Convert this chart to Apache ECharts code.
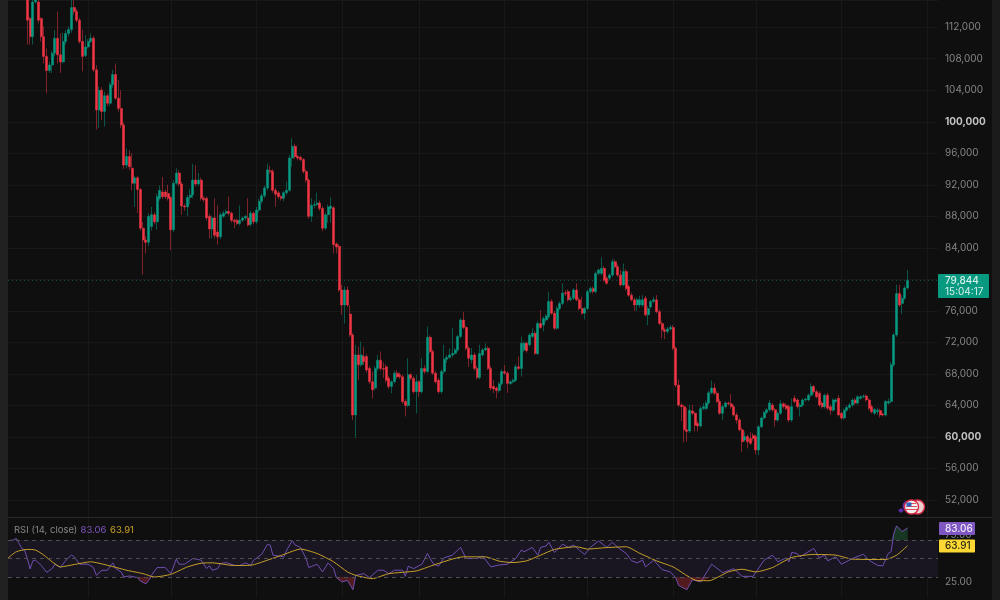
<!DOCTYPE html>
<html>
<head>
<meta charset="utf-8">
<style>html,body{margin:0;padding:0;background:#0f0f0f}#chart{width:1000px;height:600px}</style>
<script src="https://cdn.jsdelivr.net/npm/echarts@6/dist/echarts.min.js"></script>
</head>
<body>
<div id="chart"></div>
<script>
// prices in thousands of dollars, one candle a day, first candle sits at slot 7
const firstCandle = 7;
const slotCount = 338;
const monthStarts = [29, 59, 90, 121, 149, 180, 210, 241, 271, 302, 333];
const priceTicksBold = [60, 100];
const lastPrice = 79.844;

const opens = [
  121,113.1,110.8,115.2,115.2,113.1,110.8,108.3,106.5,107.2,
  108.7,110.6,108.5,107.6,110.2,111.2,111.7,114.5,114,112.9,
  110.2,108.4,109.5,110.2,110.6,106.6,101.5,104,101.3,103.3,
  102.35,104.7,106,103,101.7,99.6,94.5,95.6,94.1,92.2,
  92.9,91.4,86.5,85,84.7,86.7,88.2,87.3,90.3,91.1,
  91.1,90.9,90.4,86.3,92.2,93.5,92.1,89.3,89.2,90.4,
  90.7,92.6,92.1,92.6,90.3,90.3,88,86.4,87.8,86,
  85.4,88,88.4,88.6,88.4,87.5,87.5,87.1,87.5,87.8,
  87.8,87,88.4,87.3,88.8,89.9,90.6,91.6,93.8,93.7,
  91.3,91,90.5,90.3,91,91.3,95.4,96.9,95.6,95.5,
  95.2,93.7,92.6,88,89.4,89.5,89.7,89,86.5,88.2,
  89,89.1,84.5,84.2,78.65,76.75,78.65,75.6,72.95,62.8,
  70.4,69.15,70.2,70.2,68.7,67,66.2,68.7,69.75,68.7,
  68.9,67.45,66.4,67,68.1,67.9,67.65,64.5,64,67.9,
  67.45,65.75,67,65.75,68.7,68.3,72.65,70.85,68.1,67.2,
  65.75,68.3,69.85,70.1,70.4,70.6,71.05,72.75,74.85,73.9,
  71.25,69.8,70.4,68.7,67.55,70.4,71.05,71.25,68.7,66.4,
  66.2,65.9,66.75,68.3,68.1,66.8,67,67.2,68.9,68.7,
  71.05,71.9,71.7,72.75,73.15,70.6,74.4,74.2,74.85,75.25,
  77.2,75.7,73.8,76.3,76.95,78.3,78.45,77.45,77.6,78.65,
  77.4,76.3,75.7,76.3,78.45,78.85,78.45,80.75,80.75,81.4,
  80.15,80.15,80.55,82.25,81.6,80.55,79.3,81,79.1,78,
  77.4,76.75,76.75,76.75,77.6,75.5,76.5,77.2,77.4,75.9,
  74.4,73.6,73.4,73.7,73.9,71.25,66.6,64.05,63.85,60.9,
  60.75,63.3,63,61.7,61.4,63.6,63.6,64.3,65.6,66.2,
  65.55,64.5,63,63.85,64.3,64.2,63.85,62.8,62.15,60.9,
  59.6,60.05,59.8,60.2,60.05,58.35,61.3,62.4,63.1,63.45,
  64.05,63.45,62.15,63,64.2,64,63.85,62.15,64.9,64.7,
  63.85,64.05,64.7,64.7,65.3,66.4,65.75,65.55,64.3,63.85,
  65.3,63.85,63.4,64.5,64.9,63,62.4,63.4,63.75,64.05,
  64.7,64.3,64.9,65.1,65.2,64.7,63.85,63,63.2,63.35,
  62.9,62.8,64.3,64.5,69.15,72.95,78.2,76.95,77.6,78.9
];
const closes = [
  112.9,110.8,115.2,116,112.9,110.8,108.3,106.5,107.2,108.7,
  110.6,108.5,107.6,110.2,111.2,111.7,114.5,114,112.9,110.2,
  108.3,109.5,110.2,110.6,106.6,101.5,104,101.3,103.3,102.35,
  104.7,106,103,101.7,99.6,94.5,95.6,94.3,92.2,92.9,
  91.4,86.5,85,84.7,88,88.2,87.3,90.5,91.3,90.5,
  90.5,90.3,86.3,92.2,93.5,92.1,89.3,89.2,90.4,90.7,
  92.6,92.1,92.6,90.3,90.1,87.8,86.4,87.8,85.6,85.4,
  88.2,88.4,88.6,88.4,87.5,87.3,87.1,87.5,87.8,88,
  86.9,88.4,87.3,88.8,89.9,90.6,91.6,93.9,93.7,91.3,
  90.8,90.5,90.3,91,91.3,95.4,96.9,95.6,95.4,95.2,
  93.7,92.6,88,89.4,89.5,89.7,89,86.5,88.2,89.2,
  89.3,84.4,84.1,78.65,76.75,78.65,76.75,72.95,62.8,70.4,
  69.15,70.4,69.55,68.5,67,66,68.7,69.75,68.7,68.6,
  67.2,66.4,67,68.1,67.65,67.65,64.5,64,67.9,67.45,
  65.75,67,65.75,68.7,68.3,72.65,70.85,68.1,67,65.75,
  68.3,69.85,70.1,70.4,70.6,71.05,72.75,74.85,73.9,71.25,
  70,70.4,68.7,67.55,70.6,71.05,71.25,68.7,66.2,66.1,
  65.9,66.75,68.3,68.1,66.8,67,67.2,68.9,68.7,71.9,
  71.9,70.95,72.95,73.15,70.6,74.4,73.9,75.05,75.35,77.2,
  75.7,73.8,76.3,76.95,78.25,78.2,77.4,77.6,78.65,77.4,
  76.3,75.7,76.3,78.45,78.85,78.45,80.75,81.2,81.4,79.9,
  79.5,80.55,82.25,81.6,80.55,79.3,81,78.85,78,77.4,
  76.75,77.4,77.4,77.4,75.5,76.3,77.2,77.4,75.9,74.4,
  73.6,73.4,73.7,73.9,71.25,66.6,64.05,63.85,60.9,60.7,
  63.4,63,61.5,61.4,63.6,63.85,64.3,65.6,66.2,65.55,
  64.5,63,63.85,64.3,64.2,63.85,62.8,62.15,60.9,59.4,
  60.05,59.4,59.2,59.8,58.35,61.3,62.4,63.1,63.45,64.3,
  63.45,62.15,63,64.2,63.85,63.6,62.15,63.85,64.5,63.85,
  64.05,64.7,64.8,65.3,66.4,65.75,65.1,64.05,63.85,65.3,
  63.65,63.4,64.7,64.7,62.8,62.4,63.4,63.75,64.05,64.7,
  64.3,65.1,65.1,65.2,64.7,63.65,63.2,63.5,63.4,62.8,
  62.8,64.5,64.5,69.15,72.95,78.2,76.75,77.6,78.9,79.844
];
const lows = [
  109.8,109.8,109.8,115,112.5,110.2,107.4,103.6,106.2,106.2,
  108.3,107.4,106.2,107.4,109.8,110.8,111.3,113.6,112.6,109.9,
  106.4,108.2,109.3,110,106.3,99,99.2,100.2,99.4,102,
  102,104.3,102.8,101.3,99.2,94,94.1,93.9,91.3,89.2,
  88.4,86.2,80.6,83.3,84.2,86.2,87,86.3,90,90.2,
  90.2,90,83.7,86,92,91.8,88.2,88.7,88,89.5,
  90.3,91.8,91.9,90,89.8,87.5,85.2,85.2,85.2,84.4,
  85.1,87.8,88.2,88.1,87.2,86.5,86.9,86.8,87.3,87.5,
  86.7,86.7,87,87,88.5,89.6,90.3,91.3,93.4,91,
  89.2,90.2,90,89.9,90.7,91.1,94.3,95.3,95.1,95,
  93.4,92.3,87.7,87.3,89,89.3,88.7,86.1,86.3,87.2,
  87.2,83.3,83.3,78.4,75.5,74.4,76.5,72.7,62.15,59.9,
  67.2,68.9,69.15,68.2,66.7,64.9,65.9,68.4,68.4,67.5,
  66.9,66.1,65.55,66.8,67.4,67.4,64.2,62.6,63.8,67.2,
  65.5,63,65.1,65.5,68,68.1,70.6,67.9,66.8,65.5,
  65.5,68,69.4,69.9,70.1,70.4,70.8,72.5,73.7,71,
  68.9,69.3,68.4,67.3,67.3,70.2,70.9,68.5,65.9,65.55,
  64.9,65.6,66.5,67.9,65.6,66.6,66.8,67,68.5,67.65,
  70.8,70.7,71.5,72.5,70.4,70.4,73.7,73.4,74.6,75,
  75.5,73.6,73.6,76.1,76.7,77.9,77.2,77.2,77.4,77.2,
  76.1,75.5,74.9,76.1,78.2,78.2,78.2,80.5,80.5,79.7,
  79.3,79.9,80.3,81.4,80.3,79.1,79.1,78.6,77.8,77.2,
  76,76,76.4,76.5,75.3,74.2,76.3,77,75.7,74.2,
  72.5,72.4,73.1,73.5,71,66.3,63.8,62,59.3,59.4,
  60.5,62.8,60.7,60.7,61.2,63.4,63.4,64.1,65.4,65.3,
  64.3,62.8,62.15,63.6,64,63.6,62.6,61.7,60.7,58.1,
  59.4,58.55,59,59.5,57.8,57.7,61.1,62.2,62.9,63.2,
  63.2,61.3,61.9,62.8,63.6,63.4,61.9,61.9,64.3,63.6,
  62.6,63.8,64.5,64.5,65.1,65.5,64.9,63.8,63.6,63.6,
  63.4,62.8,63.2,64.3,62.6,62.2,62.2,63.2,63.5,63.8,
  64.1,64.1,64.7,64.9,64.5,63.4,63,62.8,62.8,62.45,
  62.6,62.6,64.1,64.3,68.9,72.7,76.5,75.6,77.4,78.7
];
const highs = [
  122.5,113.3,116,117,116,113.3,112.1,109.3,107.6,109,
  111.65,114,111.2,111.3,111.6,112.1,116,116,114.3,113.2,
  111.7,111,110.5,111.2,110.9,107.2,104.5,104.4,103.8,103.6,
  105,106.6,107.4,105.3,104,99.9,96.6,96.4,96,93.1,
  93.1,91.6,87.3,85.5,88.4,89.2,88.5,90.9,91.9,93,
  91.4,92,90.6,92.6,94.1,93.8,92.4,89.6,90.7,91.5,
  94.65,94.5,93.5,92.9,90.6,90.5,88.3,88.1,90.3,89.4,
  88.5,88.7,88.9,90.5,88.6,87.7,87.7,89.4,88,88.2,
  90.3,88.7,88.6,89.2,90.2,90.9,91.9,94.7,94.4,94,
  91.6,91.2,90.7,91.2,92.4,95.8,97.9,97.2,95.8,95.7,
  95.4,94,92.8,90.3,90,91,90,89.3,88.5,89.5,
  90.4,89.3,84.7,84.5,79.3,79.1,79.1,76.75,73.2,71.7,
  71.45,72.1,71.45,70.5,69,68.3,69,70.4,70.85,69.5,
  69.2,67.7,67.2,68.4,68.5,68.2,67.9,64.8,70,68.1,
  67.7,67.9,67.2,70,69.1,74,72.9,71.1,68.4,67.5,
  68.6,71.7,70.4,71.25,73.8,71.3,73,75.1,75.9,74.1,
  71.5,71.3,70.7,69,71.7,71.3,71.9,71.5,69,67.2,
  66.4,67,68.6,69.15,68.3,67.2,67.4,69.2,70.2,72.75,
  72.1,72.1,73.2,73.8,73.4,74.7,76.1,75.3,75.6,78.45,
  77.5,76,76.6,77.2,79.5,78.6,78.7,77.9,78.9,79.5,
  77.7,77.8,76.5,78.7,79.1,79.1,81,81.4,82.8,81.7,
  80.4,80.8,82.6,82.5,81.9,81.2,82,81.3,79.3,78.3,
  77.7,77.7,77.9,78,77.9,76.6,77.4,77.8,78,76.2,
  74.7,73.9,74,74.2,74.2,71.5,67.3,64.3,64.1,63.7,
  64.1,64.1,63.2,62,63.9,64.3,64.6,65.9,67.15,66.8,
  65.8,64.8,64.1,64.5,64.5,65.45,64.1,63.1,62.4,61.2,
  60.7,60.3,60.6,60.5,60.3,61.5,62.6,63.3,63.7,64.7,
  64.3,63.7,63.2,64.7,64.4,64.3,64.1,64.9,65.3,64.9,
  64.3,64.9,65,65.5,66.8,66.6,66,65.8,64.5,65.5,
  65.6,64.1,64.9,64.9,65.3,63.2,63.6,64,64.3,64.9,
  64.9,65.3,65.3,65.4,65.4,64.9,64.1,63.7,63.7,63.6,
  63.1,64.7,64.9,69.5,73.2,79.3,79.3,78,79.2,81.2
];

// RSI turning points: slot and value
const rsiSlots = [
  0,2,3,4,5,6,7,8,9,10,12,14,16,17,19,21,23,24,26,29,31,32,34,36,38,39,41,42,44,47,48,50,51,52,54,57,59,61,62,64,
  67,70,72,73,74,76,77,79,82,84,86,88,89,92,94,95,96,100,101,103,104,106,108,109,112,114,116,118,119,121,123,125,126,129,131,134,136,138,140,143,
  144,145,147,150,152,154,156,158,161,164,166,170,172,175,178,181,184,186,187,190,192,193,195,196,198,201,203,205,207,209,211,214,217,219,221,224,226,228,230,231,
  234,237,240,242,243,246,248,251,255,259,263,266,270,274,277,279,282,283,284,286,287,292,294,296,297,300,302,306,310,312,315,317,319,320,321,322,324,326
];
const rsiValues = [
  69.3,70,71.8,66.4,60.9,59.1,50,38.7,47.5,48.2,42.7,35.1,39.1,43.8,40.2,48.2,53.7,51.8,43.8,43.8,40.2,31.8,37.3,37.3,45.3,39.1,35.5,30,31.1,29.3,25.6,22.7,26.4,31.8,40.2,40.2,33.6,49.3,43.8,43.8,
  50,48.2,39.1,42.4,37.3,39.1,44.6,45.6,42.7,42.4,45.3,42.7,48.2,54.7,65.3,64.6,53.6,51.8,59.1,69.3,64.6,62,50,40.2,43.8,35.5,45.3,39.1,29.3,24.6,26.4,16.2,31.8,33.6,29.3,37.3,37.3,33.6,37.3,37.3,
  30.7,41.6,39.1,43.8,55.5,44.6,41.6,50.7,53.6,62,50,50,52.6,40.9,43,43.8,50,59.1,57.3,62,53.6,62,63.5,67.5,56.5,65.6,62,64.5,59.1,54.4,62,68.9,62,67.5,62,55.5,47.5,45.3,48.2,40.9,
  48.2,38,35.5,29.3,20.9,16.2,27.1,24.6,43.8,34.7,39.1,30.7,30.7,48.2,53.6,46.4,50.7,46.4,56.5,55.4,51.8,60.9,50.7,53.6,47.5,51.8,43.8,50,54.7,48.2,42.7,42,55.5,57.3,77.3,85.3,79.1,83.06
];
const maSlots = [
  0,3,7,10,13,16,19,24,30,36,43,49,53,59,65,70,74,82,88,94,100,106,112,118,123,126,132,138,148,154,165,173,
  178,183,188,193,198,206,210,216,224,229,235,241,250,254,261,266,271,277,284,292,300,306,318,322,326
];
const maValues = [
  50.4,57.3,59.8,59.1,53.6,46.4,40.9,43.5,46.4,42.7,37.3,33.6,30,32.9,40.9,44.9,45.3,42.4,42.7,48.2,54.4,60.2,55.4,46.4,35.5,31.8,28.2,33.6,36.6,42.7,51.8,51.8,
  47.1,45.6,47.5,53.6,59.8,62.7,60.2,61.6,62.7,55.5,47.5,40.9,26,26,35.5,38.4,35.5,40.2,51.1,54.4,53.6,49.3,48.9,53.6,63.91
];
const rsiBands = [30, 50, 70];
const rsiAxisLabels = [25, 75];

const categories = Array.from({ length: slotCount }, (_, i) => i);
const candleData = opens.map((o, k) => [firstCandle + k, o, closes[k], lows[k], highs[k]]);
const rsiData = rsiSlots.map((s, k) => [s, rsiValues[k]]);
const maData = maSlots.map((s, k) => [s, maValues[k]]);

const UP = '#089981', DOWN = '#f23645';
const FONT = 'Inter, "Noto Sans", sans-serif';

const chart = echarts.init(document.getElementById('chart'), null, { renderer: 'canvas' });

function tag(x, y, w, h, fill) {
  return { type: 'rect', z: 50, shape: { x, y, width: w, height: h, r: 1 }, style: { fill } };
}
function label(x, y, text, fill, size, weight) {
  return {
    type: 'text', z: 51, x, y,
    style: { text, fill, font: (weight || 400) + ' ' + (size || 10) + 'px ' + FONT, textVerticalAlign: 'middle' }
  };
}

const option = {
  backgroundColor: '#0f0f0f',
  animation: false,
  grid: [
    { left: 8, top: 0, width: 930, height: 500 },
    { left: 8, top: 517, width: 930, height: 80 },
    { left: 8, top: 0, width: 930, height: 597 }
  ],
  xAxis: [
    { type: 'category', gridIndex: 0, data: categories, boundaryGap: false, show: false },
    { type: 'category', gridIndex: 1, data: categories, boundaryGap: false, show: false },
    {
      type: 'category', gridIndex: 2, data: categories, boundaryGap: false,
      axisLine: { show: false }, axisTick: { show: false }, axisLabel: { show: false },
      splitLine: {
        show: true,
        interval: (i) => monthStarts.includes(i),
        lineStyle: { color: '#191919', width: 1 }
      }
    }
  ],
  yAxis: [
    {
      type: 'value', gridIndex: 0, position: 'right', min: 52, max: 115.455, interval: 4,
      axisLine: { show: false }, axisTick: { show: false },
      splitLine: { show: true, lineStyle: { color: '#181818', width: 1 } },
      axisLabel: {
        margin: 7, color: '#858585', fontFamily: FONT, fontSize: 10, align: 'left',
        formatter: (v) => {
          if (v > 112) return '';
          const t = (v * 1000).toLocaleString('en-US');
          return priceTicksBold.includes(v) ? '{b|' + t + '}' : t;
        },
        rich: { b: { color: '#c2c2c2', fontWeight: 700, fontFamily: FONT, fontSize: 10 } }
      }
    },
    {
      type: 'value', gridIndex: 1, position: 'right', min: 8.38, max: 94.86,
      axisLine: { show: false }, axisTick: { show: false }, splitLine: { show: false },
      axisLabel: {
        margin: 7, color: '#858585', fontFamily: FONT, fontSize: 10, align: 'left',
        customValues: rsiAxisLabels,
        formatter: (v) => v.toFixed(2)
      }
    },
    { type: 'value', gridIndex: 2, min: 0, max: 1, show: false }
  ],
  series: [
    {
      type: 'candlestick', xAxisIndex: 0, yAxisIndex: 0, data: candleData,
      encode: { x: 0, y: [1, 2, 3, 4] },
      barWidth: 2.5, z: 5,
      itemStyle: {
        color: UP, color0: DOWN,
        borderColor: 'rgba(8,153,129,0.5)', borderColor0: 'rgba(242,54,69,0.5)',
        borderWidth: 1
      },
      markLine: {
        silent: true, symbol: 'none', animation: false,
        label: { show: false },
        lineStyle: { color: 'rgba(8,153,129,0.5)', type: [1, 3], width: 1 },
        data: [{ yAxis: lastPrice }]
      }
    },
    {
      // band and dashed levels behind the RSI line
      type: 'line', xAxisIndex: 1, yAxisIndex: 1, data: [], z: 1,
      markArea: {
        silent: true,
        itemStyle: { color: '#191521' },
        data: [[{ yAxis: rsiBands[0] }, { yAxis: rsiBands[2] }]]
      },
      markLine: {
        silent: true, symbol: 'none', animation: false,
        label: { show: false },
        lineStyle: { color: '#505050', type: [4, 4], width: 1 },
        data: rsiBands.map((v) => ({ yAxis: v }))
      }
    },
    {
      type: 'line', xAxisIndex: 1, yAxisIndex: 1, z: 2, symbol: 'none',
      data: rsiData.map(([s, v]) => [s, Math.min(v, rsiBands[0])]),
      lineStyle: { width: 0 },
      areaStyle: { origin: rsiBands[0], color: 'rgba(242,54,69,0.42)' }
    },
    {
      type: 'line', xAxisIndex: 1, yAxisIndex: 1, z: 2, symbol: 'none',
      data: rsiData.map(([s, v]) => [s, Math.max(v, rsiBands[2])]),
      lineStyle: { width: 0 },
      areaStyle: { origin: rsiBands[2], color: 'rgba(46,160,90,0.38)' }
    },
    {
      name: 'RSI', type: 'line', xAxisIndex: 1, yAxisIndex: 1, z: 3, symbol: 'none',
      data: rsiData, lineStyle: { color: '#6f4fb0', width: 1 }
    },
    {
      name: 'RSI MA', type: 'line', xAxisIndex: 1, yAxisIndex: 1, z: 4, symbol: 'none', smooth: 0.2,
      data: maData, lineStyle: { color: '#c9a227', width: 1 }
    }
  ],
  graphic: [
    { type: 'rect', z: 40, shape: { x: 0, y: 0, width: 8, height: 600 }, style: { fill: '#212121' } },
    { type: 'rect', z: 40, shape: { x: 992, y: 0, width: 8, height: 600 }, style: { fill: '#1b1b1b' } },
    { type: 'line', z: 40, shape: { x1: 8, y1: 517.5, x2: 992, y2: 517.5 }, style: { stroke: '#2a2a2a', lineWidth: 1 } },

    tag(938, 274, 51, 24, UP),
    label(945, 280.5, '79,844', '#d6f0ea', 10, 500),
    label(945, 291.5, '15:04:17', '#d6f0ea', 10, 400),

    tag(939, 522, 36, 13, '#7e57c2'),
    label(945, 528.5, '83.06', '#efe9fa', 10, 500),
    tag(939, 539.5, 36, 13, '#fdd835'),
    label(945, 546, '63.91', '#2a2a10', 10, 500),

    label(14, 530, 'RSI (14, close)', '#858585', 9.5),
    label(80.5, 530, '83.06', '#7e57c2', 9.5),
    label(110, 530, '63.91', '#c9a227', 9.5),

    // event badges at the end of the price pane
    { type: 'circle', z: 30, shape: { cx: 908, cy: 506, r: 5.5 }, style: { fill: '#5e2ea8' } },
    { type: 'polygon', z: 30, shape: { points: [[898, 510.5], [901, 508], [904, 510.5], [901, 513]] }, style: { fill: '#5e2ea8' } },
    { type: 'circle', z: 31, shape: { cx: 917.5, cy: 507, r: 7 }, style: { fill: '#e9cfcf', stroke: '#d72a45', lineWidth: 1.4 } },
    { type: 'circle', z: 32, shape: { cx: 911.5, cy: 507, r: 7 }, style: { fill: '#f1f1f1', stroke: '#d72a45', lineWidth: 1.4 } },
    { type: 'rect', z: 33, shape: { x: 907, y: 503, width: 9, height: 1 }, style: { fill: '#e44d5c' } },
    { type: 'rect', z: 33, shape: { x: 906, y: 506, width: 11, height: 1 }, style: { fill: '#e44d5c' } },
    { type: 'rect', z: 33, shape: { x: 906, y: 509, width: 11, height: 1 }, style: { fill: '#e44d5c' } },
    { type: 'rect', z: 34, shape: { x: 906.5, y: 502.5, width: 5, height: 4 }, style: { fill: '#2f5fb8' } }
  ]
};

chart.setOption(option);
</script>
</body>
</html>
